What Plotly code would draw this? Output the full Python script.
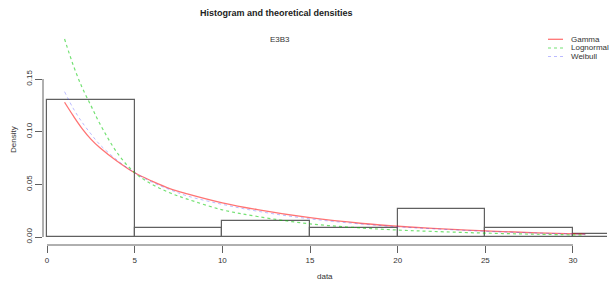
import plotly.graph_objects as go

# ---- data ----
bin_left = [0, 5, 10, 15, 20, 25, 30]
bin_width = 5
bar_density = [0.130, 0.0089, 0.0155, 0.0089, 0.0263, 0.0089, 0.0027]

curve_x = [1, 1.5, 2, 2.5, 3, 4, 5, 6, 7, 8, 10, 12, 15, 18, 20, 22, 25, 28, 30.7]
gamma_d = [0.128, 0.115, 0.103, 0.093, 0.085, 0.072, 0.061, 0.053, 0.046, 0.041,
           0.0325, 0.026, 0.0183, 0.0128, 0.0102, 0.0082, 0.0058, 0.0040, 0.0028]
lognorm_d = [0.188, 0.163, 0.142, 0.125, 0.108, 0.080, 0.061, 0.050, 0.042, 0.036,
             0.0258, 0.0195, 0.0125, 0.0085, 0.0066, 0.0053, 0.0037, 0.0026, 0.0019]
weibull_d = [0.138, 0.122, 0.109, 0.098, 0.088, 0.073, 0.061, 0.052, 0.045, 0.039,
             0.031, 0.0245, 0.0172, 0.0122, 0.0097, 0.0078, 0.0054, 0.0037, 0.0026]

x_ticks = [0, 5, 10, 15, 20, 25, 30]
y_ticks = [0.00, 0.05, 0.10, 0.15]
legend_names = ["Gamma", "Lognormal", "Weibull"]
title_text = "Histogram and theoretical densities"
subtitle_text = "E3B3"

# ---- layout geometry (pixels) ----
W, H = 614, 286
L, R, T, B = 43, 7, 30, 41
PW, PH = W - L - R, H - T - B

def px(x):
    return (x - L) / PW

def py(y):
    return (H - B - y) / PH

FONT = "Liberation Sans, Arial, sans-serif"
GRAY = "#606060"
TXT = "#333333"

red = "rgba(255,0,0,0.55)"
green = "rgba(0,200,0,0.55)"
blue = "rgba(60,60,255,0.35)"

fig = go.Figure()

fig.add_trace(go.Bar(
    x=[b + bin_width / 2 for b in bin_left], y=bar_density, width=bin_width,
    marker=dict(color="rgba(0,0,0,0)", line=dict(color=GRAY, width=1.2)),
    showlegend=False, hoverinfo="skip"))

fig.add_trace(go.Scatter(x=curve_x, y=gamma_d, mode="lines", line_shape="spline",
                         line=dict(color=red, width=1.3), showlegend=False))
fig.add_trace(go.Scatter(x=curve_x, y=lognorm_d, mode="lines", line_shape="spline",
                         line=dict(color=green, width=1.2, dash="dot"), showlegend=False))
fig.add_trace(go.Scatter(x=curve_x, y=weibull_d, mode="lines", line_shape="spline",
                         line=dict(color=blue, width=1, dash="dot"), showlegend=False))

shapes = [
    dict(type="line", xref="x", yref="paper", x0=x_ticks[0], x1=x_ticks[-1], y0=0, y1=0,
         line=dict(color=GRAY, width=1)),
    dict(type="line", xref="paper", yref="y", x0=0, x1=0, y0=y_ticks[0], y1=y_ticks[-1],
         line=dict(color=GRAY, width=1)),
]

leg_rows = [39.3, 48, 56.5]
leg_styles = [dict(color=red, width=1.3), dict(color=green, width=1.2, dash="dot"),
              dict(color=blue, width=1, dash="dot")]
annotations = []
for name, yy, st in zip(legend_names, leg_rows, leg_styles):
    shapes.append(dict(type="line", xref="paper", yref="paper", x0=px(548), x1=px(563),
                       y0=py(yy), y1=py(yy), line=st))
    annotations.append(dict(text=name, xref="paper", yref="paper", x=px(569), y=py(yy),
                            xanchor="left", yanchor="middle", showarrow=False,
                            font=dict(size=8, color=TXT, family=FONT)))

annotations += [
    dict(text="<b>" + title_text + "</b>", xref="paper", yref="paper", x=px(276), y=py(13),
         xanchor="center", yanchor="middle", showarrow=False,
         font=dict(size=9, color="#222222", family=FONT)),
    dict(text=subtitle_text, xref="paper", yref="paper", x=px(280), y=py(39),
         xanchor="center", yanchor="middle", showarrow=False,
         font=dict(size=8, color=TXT, family=FONT)),
    dict(text="data", xref="paper", yref="paper", x=px(325), y=py(276),
         xanchor="center", yanchor="middle", showarrow=False,
         font=dict(size=8, color=TXT, family=FONT)),
    dict(text="Density", xref="paper", yref="paper", x=px(13), y=py(140),
         xanchor="center", yanchor="middle", showarrow=False, textangle=-90,
         font=dict(size=8, color=TXT, family=FONT)),
]

fig.update_layout(
    width=W, height=H, margin=dict(l=L, r=R, t=T, b=B),
    paper_bgcolor="white", plot_bgcolor="white",
    shapes=shapes, annotations=annotations, showlegend=False, bargap=0,
    xaxis=dict(range=[-0.23, 31.94], tickvals=x_ticks, ticks="outside", ticklen=7,
               tickcolor=GRAY, showgrid=False, zeroline=False, showline=False,
               tickfont=dict(size=8, color=TXT, family=FONT)),
    yaxis=dict(range=[-0.0076, 0.1966], tickvals=y_ticks, tickformat=".2f",
               ticks="outside", ticklen=7, tickcolor=GRAY, tickangle=-90,
               showgrid=False, zeroline=False, showline=False,
               tickfont=dict(size=8, color=TXT, family=FONT)),
)

fig.write_html("out.html", config={"displayModeBar": False},
               post_script="document.body.style.margin='0px';document.body.style.overflow='hidden';")
